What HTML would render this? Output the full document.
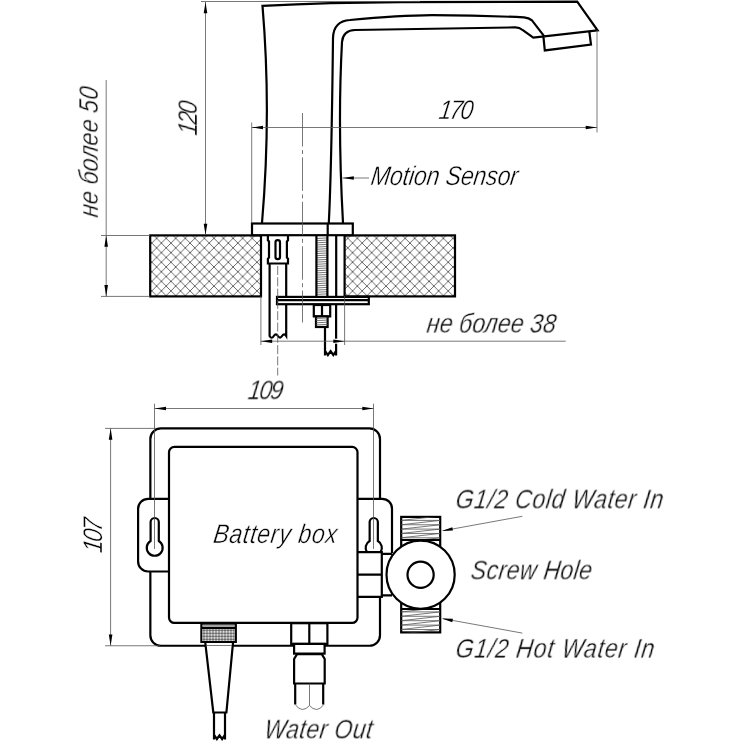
<!DOCTYPE html>
<html><head><meta charset="utf-8"><title>Sensor faucet dimensions</title>
<style>
html,body{margin:0;padding:0;background:#fff;}
body{width:744px;height:744px;overflow:hidden;font-family:"Liberation Sans",sans-serif;}
svg{display:block}
.k{stroke:#000;stroke-width:2.2;fill:none;stroke-linejoin:miter;stroke-linecap:butt}
.kw{stroke:#000;stroke-width:2.2;fill:#fff;stroke-linejoin:miter}
.t{stroke:#555;stroke-width:.8;fill:none}
.a{fill:#000;stroke:none}
text{font-family:"Liberation Sans",sans-serif;font-style:italic;font-size:27px;fill:#000;stroke:#fff;stroke-width:.4}
</style></head><body>
<svg width="744" height="744" viewBox="0 0 744 744">
<defs>
<pattern id="hx" width="9.56" height="9.56" patternUnits="userSpaceOnUse" x="147.04" y="228.74">
<path d="M0,0L9.56,9.56M9.56,0L0,9.56" stroke="#222" stroke-width=".68" fill="none"/>
</pattern>
<pattern id="kn" width="3" height="3" patternUnits="userSpaceOnUse" x="202.5" y="628.8"><rect width="3" height="3" fill="#ececec"/><path d="M1.5,0.100L2.900,1.500L1.500,2.900L0.100,1.500Z" fill="#444"/></pattern>
</defs>
<rect width="744" height="744" fill="#fff"/>

<!-- ============ SIDE VIEW ============ -->
<g id="side">
<!-- counter -->
<rect x="150.2" y="235.4" width="110.8" height="61" fill="url(#hx)"/>
<rect x="344.6" y="235.4" width="110.4" height="61" fill="url(#hx)"/>
<rect class="k" x="150.2" y="235.4" width="110.8" height="61"/>
<rect class="k" x="344.6" y="235.4" width="110.4" height="61"/>
<!-- faucet body -->
<path class="k" d="M262,223 Q271.5,112 262.5,5.8 Q330,2.6 400,2.2 L577.2,1.6 L597.6,30.3 L544.3,36.4"/>
<path class="k" d="M328.8,223 Q331.5,170 333,38 Q333.5,21 350,20 Q400,15.5 432,15.2 Q480,15.4 524,17.3 Q529,17.7 532,20.4 L544.3,36.3"/>
<path class="k" d="M343,223 Q337.5,125 342,42 Q343,30.5 355,30 Q430,28.5 515,27.4 Q519.5,27.3 522.5,30 L533.3,37.7 L544.3,36.4"/>
<path class="k" d="M543.4,36.4 L544.8,50.4 L591,44.5 L589.3,31.3"/>
<!-- base plate -->
<rect class="kw" x="252" y="223.500" width="100.800" height="11.700"/>
<path class="k" d="M327.700,223.500V235"/>
<!-- hose connector -->
<path class="k" d="M267.9,235.5 V240.4 L269,241.5 V257.5 L267.9,258.6 V263.5 H288 V258.6 L286.9,257.5 V241.5 L288,240.4 V235.5"/>
<rect class="k" x="275.5" y="240.1" width="4.5" height="19.1" rx="2.2" stroke-width="2.1"/>
<path class="k" d="M269.6,263.5V336 q2,3.5 4.15,0 q2.15,-3.2 4.15,0 q2.15,3.2 4.15,0 q2.15,-3.2 4.15,0 V263.5" stroke-linejoin="round"/>
<!-- threaded rod -->
<g class="t" stroke="#777" stroke-width=".55"><path d="M316.6,238.5L327.4,237.9M316.6,240.65L327.4,240.05M316.6,242.8L327.4,242.2M316.6,244.95L327.4,244.35M316.6,247.1L327.4,246.5M316.6,249.25L327.4,248.65M316.6,251.4L327.4,250.8M316.6,253.55L327.4,252.95M316.6,255.7L327.4,255.1M316.6,257.85L327.4,257.25M316.6,260L327.4,259.4M316.6,262.15L327.4,261.55M316.6,264.3L327.4,263.7M316.6,266.45L327.4,265.85M316.6,268.6L327.4,268M316.6,270.75L327.4,270.15M316.6,272.9L327.4,272.3M316.6,275.05L327.4,274.45M316.6,277.2L327.4,276.6M316.6,279.35L327.4,278.75M316.6,281.5L327.4,280.9M316.6,283.65L327.4,283.05M316.6,285.8L327.4,285.2M316.6,287.95L327.4,287.35M316.6,290.1L327.4,289.5M316.6,292.25L327.4,291.65M316.6,294.4L327.4,293.8"/></g>
<path class="k" d="M316.4,235.5V296.5M327.4,235.5V296.5M336.2,235.5V296.5"/>
<!-- bracket plate -->
<rect class="kw" x="277" y="296.9" width="91.8" height="7.3"/>
<path class="k" d="M277,300.2H368.8" stroke-width="1.4"/>
<!-- nut + bolt -->
<rect class="kw" x="313.8" y="305" width="16.4" height="11.4"/>
<path class="k" d="M322,305V316.2" stroke-width="1.4"/>
<rect class="kw" x="316" y="316.4" width="11.6" height="10.6"/>
<g class="t" stroke="#777" stroke-width=".55"><path d="M316,318.5L327.4,317.9M316,320.65L327.4,320.05M316,322.8L327.4,322.2M316,324.95L327.4,324.35"/></g>
<!-- wire -->
<path class="k" d="M336.1,304.2V355.6M325,326.6V355.6"/>
<path class="k" d="M325,350.8 l2.9,4.2 l2.7,-3.8 l2.7,3.8 l2.8,-4.2" stroke-linejoin="round"/>
<rect x="333" y="338.7" width="6" height="5" fill="#fff"/>
</g>

<!-- dims side -->
<g id="dims1">
<path class="t" d="M201,1.5H420"/>
<path class="t" d="M205.5,2V235"/>
<path class="a" d="M205.5,2l-1.8,11.3h3.6z"/>
<path class="a" d="M205.5,235l-1.8,-11.3h3.6z"/>
<path class="t" d="M251.7,122.5V223"/>
<path class="t" d="M597,30V132.5"/>
<path class="t" d="M251.7,127.5H597"/>
<path class="a" d="M251.7,127.5l11.3,-1.8v3.6z"/>
<path class="a" d="M597,127.5l-11.3,-1.8v3.6z"/>
<path class="t" d="M302.5,113V322.5" stroke-dasharray="33.5 3.5 4 3.4"/>
<path class="t" d="M342.5,178H369"/>
<path class="a" d="M342.800,178l11,-1.700v3.400z"/>
<path class="t" d="M101,235.5H150M101,296.4H150"/>
<path class="t" d="M106.2,80V296.4"/>
<path class="a" d="M106.2,235.5l-1.8,11.3h3.6z"/>
<path class="a" d="M106.2,296.4l-1.8,-11.3h3.6z"/>
<path class="t" d="M260.9,296.2V345M344.6,296.2V345"/>
<path class="t" d="M260.9,341.2H565.7"/>
<path class="a" d="M260.9,341.2l11.3,-1.8v3.6z"/>
<path class="a" d="M344.6,341.2l-11.3,-1.8v3.6z"/>
<path class="t" d="M277.7,266V375.5" stroke-dasharray="9 2.3" stroke="#666"/>
</g>

<!-- ============ BOX VIEW ============ -->
<g id="box">
<!-- outer frame -->
<path class="k" d="M150.35,498.8V438.9 a10.500,10.500 0 0 1 10.500,-10.500 H369.5 a10.500,10.500 0 0 1 10.500,10.500 V498.8"/>
<path class="k" d="M150.35,571.5V635.25 a10.500,10.500 0 0 0 10.500,10.500 H369.5 a10.500,10.500 0 0 0 10.500,-10.500 V596.900"/>
<!-- tabs -->
<path class="k" d="M169,498.8H148.100 a10,10 0 0 0 -10,10 V561.5 a10,10 0 0 0 10,10 H169"/>
<path class="k" d="M357.5,498.8H382.3 a9.700,9.700 0 0 1 9.700,9.700 V553"/>
<!-- keyholes -->
<path class="k" d="M150.6,541 V522.100 a4.100,4.100 0 0 1 8.200,0 V541 A7.950,7.950 0 1 1 150.6,541 Z" stroke-linejoin="round"/>
<path class="k" d="M366.900,552.200 A7.950,7.950 0 0 1 369.650,541 V522.100 a4.100,4.100 0 0 1 8.200,0 V541 A7.950,7.950 0 0 1 380.600,552.200" stroke-linejoin="round"/>
<!-- connector block -->
<path class="k" d="M357.5,552.200H381.800V596.900H357.500M357.500,574.700H381.800"/>
<path class="k" d="M381.800,553.800H392M381.800,595.400H392" stroke-width="2"/>
<!-- thread blocks -->
<rect class="kw" x="401.2" y="516.9" width="39" height="30"/>
<rect class="kw" x="401.2" y="602" width="39" height="30.4"/>
<clipPath id="cb"><rect x="401.2" y="517" width="39" height="22.6"/></clipPath><clipPath id="hb"><rect x="401.2" y="609.6" width="39" height="22.8"/></clipPath><g class="t" stroke="#808080" stroke-width=".5"><path clip-path="url(#cb)" d="M401.2,520.4L440.2,516.05M401.2,520.4H440.2M401.2,524.75L440.2,520.4M401.2,524.75H440.2M401.2,529.1L440.2,524.75M401.2,529.1H440.2M401.2,533.45L440.2,529.1M401.2,533.45H440.2M401.2,537.8L440.2,533.45M401.2,537.8H440.2M401.2,542.15L440.2,537.8M401.2,546.5L440.2,542.15"/><path clip-path="url(#hb)" d="M401.2,611.9L440.2,607.5M401.2,611.9H440.2M401.2,616.3L440.2,611.9M401.2,616.3H440.2M401.2,620.7L440.2,616.3M401.2,620.7H440.2M401.2,625.1L440.2,620.7M401.2,625.1H440.2M401.2,629.5L440.2,625.1M401.2,629.5H440.2M401.2,633.9L440.2,629.5M401.2,638.3L440.2,633.9"/></g>
<path class="k" d="M401.2,540H440.2M401.2,609H440.2" stroke-width="1.8"/>
<!-- valve -->
<circle class="kw" cx="420.6" cy="574.7" r="34.1"/>
<circle class="k" cx="420.6" cy="574.7" r="13.1"/>
<!-- inner box -->
<rect class="kw" x="169" y="446.900" width="188.500" height="176.050" rx="5.400" ry="5.400"/>
<!-- cable gland -->
<rect class="kw" x="201.4" y="623.6" width="34.400" height="18.300"/>
<rect x="202.500" y="628.800" width="32.200" height="12.200" fill="url(#kn)"/>
<path class="k" d="M201.400,627.900H235.800" stroke-width="1.900"/>
<path class="t" d="M203,625.800H234.500" stroke="#ccc" stroke-width=".6"/>
<path class="kw" d="M205.300,642.900 L213.300,712.500 H226.400 L233,642.900"/>
<path class="t" d="M206.500,645.500H231.800" stroke="#aaa" stroke-width=".7"/>
<path class="k" d="M214,712.5V739.5M225,712.5V739.5"/><path class="k" d="M214,735 l2.9,4 l2.6,-3.6 l2.6,3.6 l2.9,-4" stroke-linejoin="round"/>
<!-- water out -->
<rect class="kw" x="291.2" y="623.2" width="36.2" height="20.7"/>
<path class="k" d="M309.3,623.2V643.9"/>
<rect class="kw" x="294.1" y="643.9" width="30.500" height="9.700"/>
<path class="kw" d="M294.100,659 L297,654.200 H321.800 L324.700,659 V683.500 H294.100 Z"/>
<path class="k" d="M295.2,683.7V704.5M323.2,683.7V704.5"/>
<path class="t" d="M309.5,683.7V705.5M295.2,704.5 q3,4.5 7,5 q4,0 7.3,-4 q3.3,4 7.3,4 q4,-0.5 7,-5"/>
</g>

<g id="dims2">
<path class="t" d="M154.5,403.7V549M373.500,403.7V549" stroke="#666" stroke-width=".7"/>
<path class="t" d="M154.7,408.5H373.6"/>
<path class="a" d="M154.7,408.5l11.3,-1.8v3.6z"/>
<path class="a" d="M373.6,408.5l-11.3,-1.8v3.6z"/>
<path class="t" d="M105,428.400H156M105,645.750H160"/>
<path class="t" d="M110.6,428.4V645.750"/>
<path class="a" d="M110.6,428.4l-1.8,11.3h3.6z"/>
<path class="a" d="M110.6,645.750l-1.8,-11.3h3.6z"/>
<path class="t" d="M443.200,530.700L522.300,516.300"/>
<path class="a" d="M441.800,530.900L452.300,527.200L452.900,530.600Z"/>
<path class="t" d="M443.200,618.700L522.300,633.100"/>
<path class="a" d="M441.800,618.500L452.300,622.200L452.900,618.800Z"/>
</g>

<!-- ============ TEXT ============ -->
<g id="labels" opacity=".995">
<text transform="translate(438,119.2) skewX(-8) scale(0.85,1)" textLength="40.3" lengthAdjust="spacing">170</text>
<text transform="translate(370,185.2) skewX(-8) scale(0.85,1)" textLength="172.9" lengthAdjust="spacing">Motion Sensor</text>
<text transform="translate(426,333) skewX(-8) scale(0.85,1)" textLength="151.7" lengthAdjust="spacing">не более 38</text>
<text transform="translate(98.3,218) rotate(-90) skewX(-8) scale(0.85,1)" textLength="153" lengthAdjust="spacing">не более 50</text>
<text transform="translate(197.3,136) rotate(-90) skewX(-8) scale(0.85,1)" textLength="40" lengthAdjust="spacing">120</text>
<text transform="translate(247.2,399.6) skewX(-8) scale(0.85,1)" textLength="41" lengthAdjust="spacing">109</text>
<text transform="translate(102.2,553.4) rotate(-90) skewX(-8) scale(0.85,1)" textLength="40.2" lengthAdjust="spacing">107</text>
<text transform="translate(212.5,543) skewX(-8) scale(0.85,1)" textLength="145.3" lengthAdjust="spacing">Battery box</text>
<text transform="translate(454.8,508.7) skewX(-8) scale(0.85,1)" textLength="244.1" lengthAdjust="spacing">G1/2 Cold Water In</text>
<text transform="translate(470,579.7) skewX(-8) scale(0.85,1)" textLength="142.3" lengthAdjust="spacing">Screw Hole</text>
<text transform="translate(454.8,658) skewX(-8) scale(0.85,1)" textLength="233.5" lengthAdjust="spacing">G1/2 Hot Water In</text>
<text transform="translate(263.5,738.8) skewX(-8) scale(0.85,1)" textLength="127" lengthAdjust="spacing">Water Out</text>
</g>
</svg>
</body></html>
